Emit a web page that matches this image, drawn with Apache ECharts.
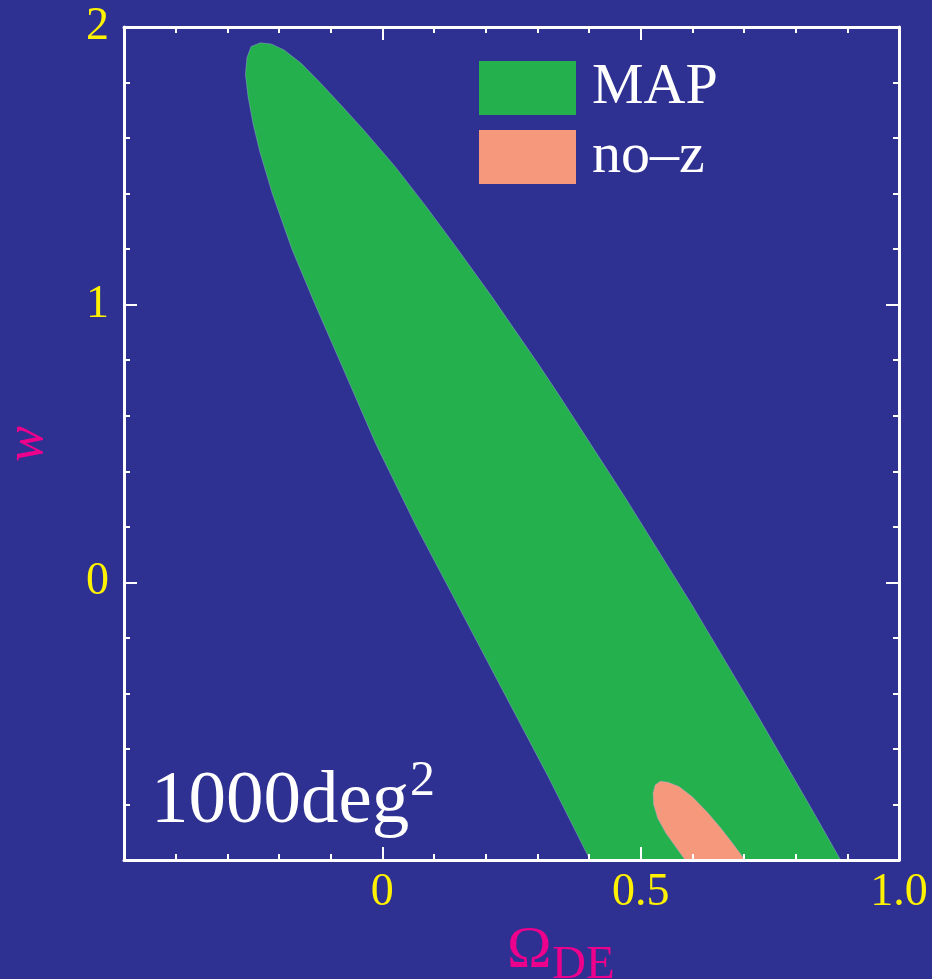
<!DOCTYPE html>
<html>
<head>
<meta charset="utf-8">
<script src="https://cdn.jsdelivr.net/npm/echarts@6/dist/echarts.min.js"></script>
<style>
html,body{margin:0;padding:0;background:#2E3192;}
#chart{width:932px;height:979px;}
</style>
</head>
<body>
<div id="chart"></div>
<script>
// ---- data ----
const xTicks = [-0.5, 0, 0.5, 1.0];
const xTickLabels = ['', '0', '0.5', '1.0'];
const yTicks = [-1, 0, 1, 2];
const yTickLabels = ['', '0', '1', '2'];

const seriesNames = ['MAP', 'no–z'];

// MAP region boundary (Omega_DE, w), traced clockwise from bottom-left
const mapOmega = [0.402, 0.321, 0.236, 0.151, 0.066, -0.013, -0.083, -0.130, -0.175, -0.213, -0.237, -0.250, -0.260, -0.265, -0.262, -0.254, -0.236,
                  -0.215, -0.190, -0.157, -0.119, -0.080, -0.036, 0.025, 0.085, 0.147, 0.212, 0.301, 0.341, 0.471, 0.597, 0.729, 0.830, 0.887];
const mapW     = [-1.000, -0.700, -0.400, -0.100, 0.200, 0.500, 0.800, 1.000, 1.200, 1.400, 1.550, 1.650, 1.750, 1.830, 1.890, 1.930, 1.943,
                  1.939, 1.917, 1.869, 1.797, 1.719, 1.629, 1.497, 1.353, 1.197, 1.029, 0.789, 0.677, 0.303, -0.074, -0.488, -0.813, -1.000];

// no-z region boundary
const nozOmega = [0.586, 0.549, 0.533, 0.525, 0.524, 0.528, 0.538, 0.553, 0.574, 0.600, 0.630, 0.655, 0.678, 0.702];
const nozW     = [-1.000, -0.904, -0.850, -0.800, -0.760, -0.730, -0.716, -0.720, -0.735, -0.772, -0.830, -0.885, -0.940, -1.000];

// ---- styling ----
const BG = '#2E3192';
const GREEN = '#24B14D';
const SALMON = '#F5987B';
const YELLOW = '#FFF200';
const MAGENTA = '#EC008C';
const FONT = '"Liberation Serif", "DejaVu Serif", serif';

const chart = echarts.init(document.getElementById('chart'));

function regionSeries(name, xs, ys, color) {
  return {
    type: 'custom',
    name: name,
    xAxisIndex: 0,
    yAxisIndex: 0,
    z: 2,
    clip: true,
    silent: true,
    itemStyle: { color: color },
    data: xs.map((x, i) => [x, ys[i]]),
    renderItem: function (params, api) {
      if (params.dataIndex !== 0) return null;
      const pts = xs.map((x, i) => api.coord([x, ys[i]]));
      return {
        type: 'polygon',
        shape: { points: pts },
        style: { fill: color, stroke: 'rgba(170,170,230,0.5)', lineWidth: 0.8, lineJoin: 'round' }
      };
    }
  };
}

function xLabel(v) {
  const i = xTicks.findIndex(t => Math.abs(t - v) < 1e-9);
  return i >= 0 ? xTickLabels[i] : '';
}
function yLabel(v) {
  const i = yTicks.findIndex(t => Math.abs(t - v) < 1e-9);
  return i >= 0 ? yTickLabels[i] : '';
}

const axisCommon = {
  type: 'value',
  z: 5,
  axisLine: { show: true, onZero: false, lineStyle: { color: '#fff', width: 3 } },
  axisTick: { show: true, inside: true, length: 13, lineStyle: { color: '#fff', width: 2 } },
  minorTick: { show: true, splitNumber: 5, length: 6, lineStyle: { color: '#fff', width: 2 } },
  splitLine: { show: false },
  minorSplitLine: { show: false }
};

const option = {
  backgroundColor: BG,
  animation: false,
  grid: { left: 124, top: 27, right: 33, bottom: 119, containLabel: false },
  xAxis: [
    Object.assign({}, axisCommon, {
      position: 'bottom', min: xTicks[0], max: xTicks[xTicks.length - 1], interval: 0.5,
      axisLabel: { show: true, margin: 10, color: YELLOW, fontFamily: FONT, fontSize: 46, formatter: xLabel, showMinLabel: true, showMaxLabel: true, hideOverlap: false }
    }),
    Object.assign({}, axisCommon, {
      position: 'top', min: xTicks[0], max: xTicks[xTicks.length - 1], interval: 0.5,
      axisLabel: { show: false }
    })
  ],
  yAxis: [
    Object.assign({}, axisCommon, {
      position: 'left', min: yTicks[0], max: yTicks[yTicks.length - 1], interval: 1,
      axisLabel: { show: true, margin: 15, color: YELLOW, fontFamily: FONT, fontSize: 46, formatter: yLabel, showMinLabel: true, showMaxLabel: true, hideOverlap: false }
    }),
    Object.assign({}, axisCommon, {
      position: 'right', min: yTicks[0], max: yTicks[yTicks.length - 1], interval: 1,
      axisLabel: { show: false }
    })
  ],
  legend: {
    show: true,
    orient: 'vertical',
    left: 479,
    top: 59,
    itemWidth: 97,
    itemHeight: 54,
    itemGap: 11,
    selectedMode: false,
    icon: 'rect',
    padding: 0,
    data: [
      { name: seriesNames[0], icon: 'rect', itemStyle: { color: GREEN } },
      { name: seriesNames[1], icon: 'rect', itemStyle: { color: SALMON } }
    ],
    textStyle: { color: '#fff', fontFamily: FONT, fontSize: 58, lineHeight: 54, padding: [0, 0, 0, 11] }
  },
  graphic: [
    { type: 'text', x: 28, y: 444, rotation: Math.PI / 2, z: 10,
      style: { text: 'w', fill: MAGENTA, font: 'italic 54px ' + FONT, align: 'center', verticalAlign: 'middle' } },
    { type: 'text', x: 507, y: 951, z: 10,
      style: { text: 'Ω', fill: MAGENTA, font: '60px ' + FONT, align: 'left', verticalAlign: 'middle' } },
    { type: 'text', x: 552, y: 966, z: 10,
      style: { text: 'DE', fill: MAGENTA, font: '47px ' + FONT, align: 'left', verticalAlign: 'middle' } },
    { type: 'text', x: 151, y: 802, z: 10,
      style: { text: '1000deg', fill: '#fff', font: '75px ' + FONT, align: 'left', verticalAlign: 'middle' } },
    { type: 'text', x: 410, y: 782, z: 10,
      style: { text: '2', fill: '#fff', font: '50px ' + FONT, align: 'left', verticalAlign: 'middle' } }
  ],
  series: [
    regionSeries(seriesNames[0], mapOmega, mapW, GREEN),
    regionSeries(seriesNames[1], nozOmega, nozW, SALMON)
  ]
};

chart.setOption(option);
</script>
</body>
</html>
